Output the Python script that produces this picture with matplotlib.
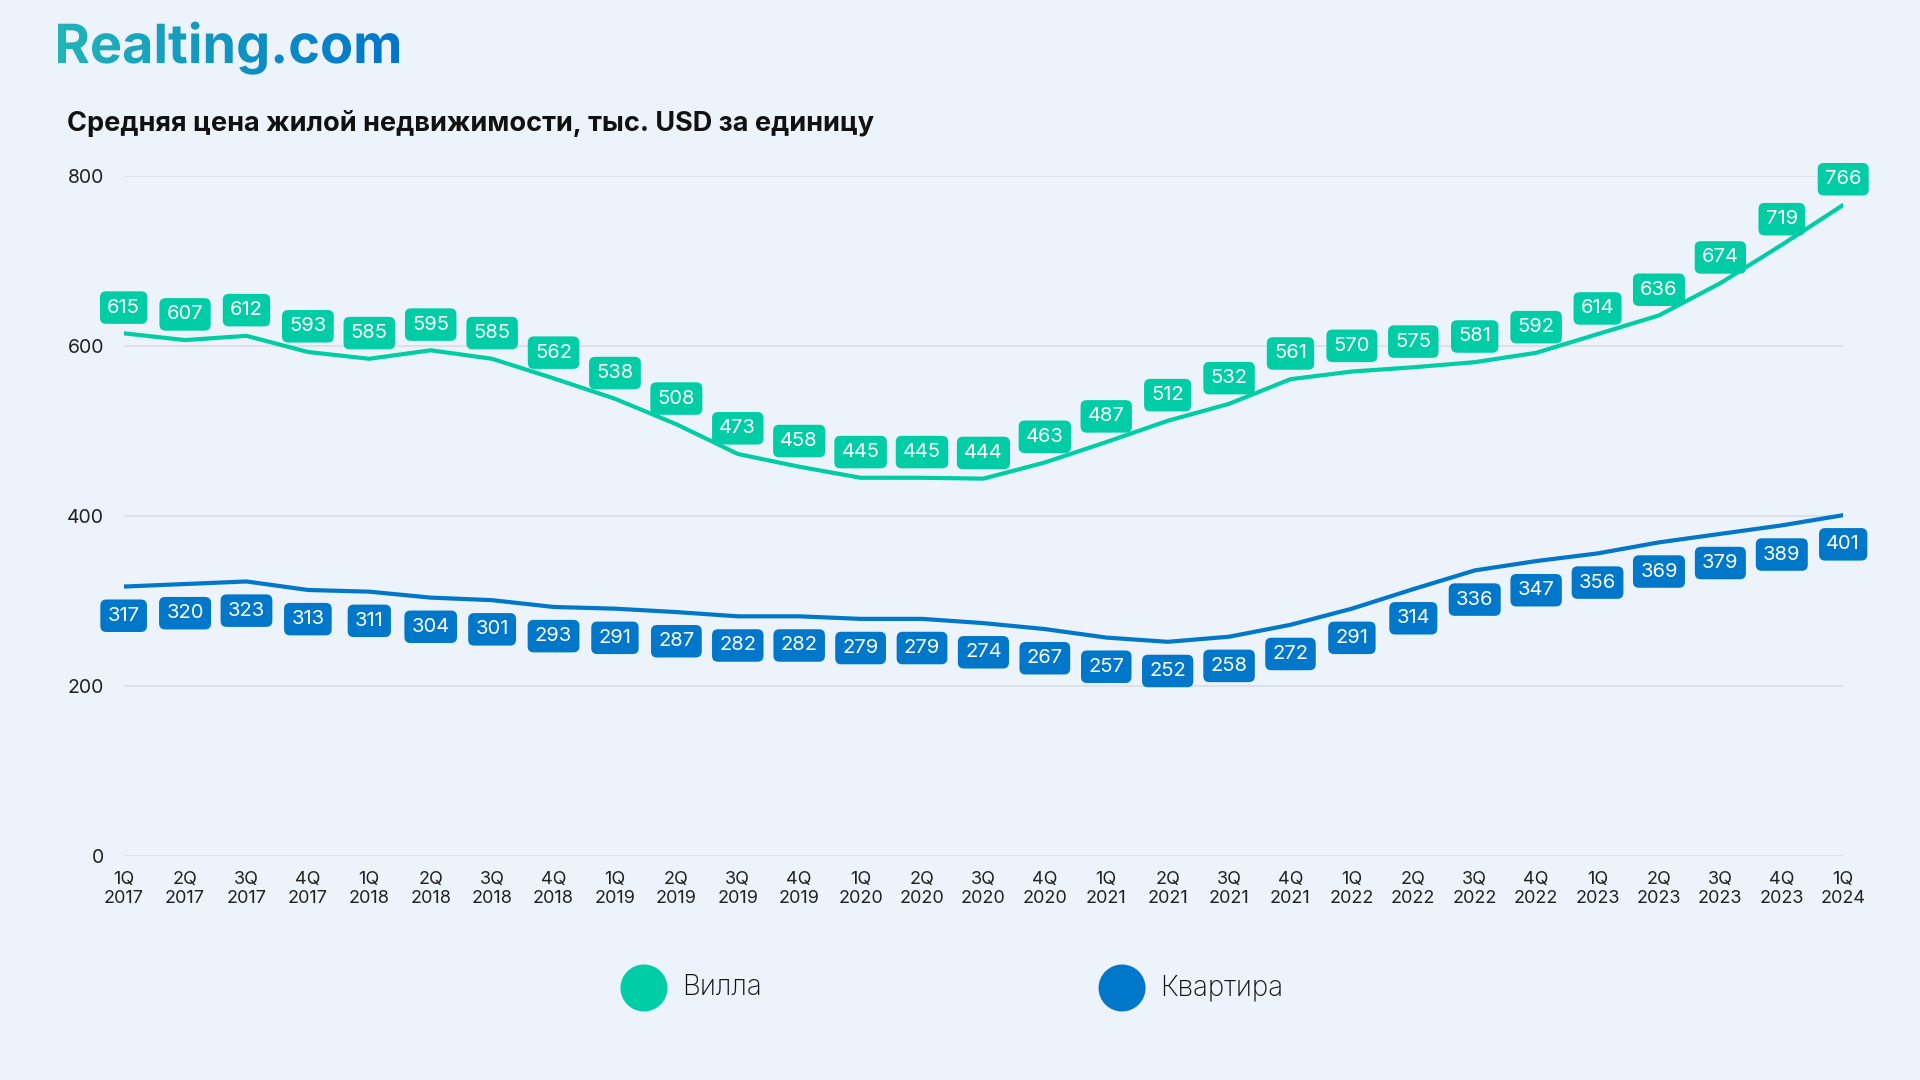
import numpy as np
import matplotlib.pyplot as plt
from matplotlib.patches import Ellipse, PathPatch
from matplotlib.textpath import TextPath
from matplotlib.font_manager import FontProperties

plt.rcParams['font.family'] = ['Inter', 'DejaVu Sans']

quarters = ['1Q', '2Q', '3Q', '4Q']
periods = [f'{q}\n{y}' for y in range(2017, 2025) for q in quarters][:29]

villa = [615, 607, 612, 593, 585, 595, 585, 562, 538, 508, 473, 458, 445, 445, 444,
         463, 487, 512, 532, 561, 570, 575, 581, 592, 614, 636, 674, 719, 766]
apartment = [317, 320, 323, 313, 311, 304, 301, 293, 291, 287, 282, 282, 279, 279, 274,
             267, 257, 252, 258, 272, 291, 314, 336, 347, 356, 369, 379, 389, 401]

BG = '#edf3fb'
VILLA_C = '#00cca6'
FLAT_C = '#0077c8'

fig = plt.figure(figsize=(19.2, 10.8), dpi=100, facecolor=BG)
ax = fig.add_axes([0.0644, 0.2074, 0.8956, 0.6296])
ax.set_facecolor(BG)

x = np.arange(len(periods))

for vals, color, off in [(villa, VILLA_C, 18.5), (apartment, FLAT_C, -21)]:
    ax.plot(x, vals, color=color, lw=3, solid_capstyle='round', solid_joinstyle='round', zorder=3)
    for xi, v in zip(x, vals):
        ax.annotate(str(v), (xi, v), xytext=(0, off), textcoords='offset points',
                    ha='center', va='center', fontsize=14.5, color='white',
                    annotation_clip=False, zorder=4,
                    bbox=dict(boxstyle='round,pad=0.36,rounding_size=0.3', fc=color, ec='none'))

ax.set_xlim(0, len(periods) - 1)
ax.set_ylim(0, 800)
ax.set_yticks([0, 200, 400, 600, 800])
ax.set_xticks(x)
ax.set_xticklabels(periods, fontsize=13, color='#222222', linespacing=1.1)
ax.tick_params(axis='y', labelsize=14, colors='#222222', length=0, pad=14)
ax.tick_params(axis='x', length=0, pad=11)
ax.grid(axis='y', color='#d9dde3', lw=1.2)
ax.set_axisbelow(True)
for s in ax.spines.values():
    s.set_visible(False)

# logo with teal -> blue gradient
lax = fig.add_axes([0, 0, 1, 1], zorder=-1)
lax.set_xlim(0, 1920)
lax.set_ylim(0, 1080)
lax.axis('off')
tp = TextPath((0, 0), 'Realting.com', size=54, prop=FontProperties(family='Inter', weight='bold'))
bb = tp.get_extents()
tp = TextPath((58 - bb.x0, 1080 - 43 - 20), 'Realting.com', size=54,
              prop=FontProperties(family='Inter', weight='bold'))
bb = tp.get_extents()
patch = PathPatch(tp, fc='none', ec='none')
lax.add_patch(patch)
grad = np.linspace(0, 1, 256).reshape(1, -1)
im = lax.imshow(grad, extent=[bb.x0, bb.x1, bb.y0, bb.y1], aspect='auto',
                cmap=plt.matplotlib.colors.LinearSegmentedColormap.from_list('logo', ['#22b4b8', '#0075cc']))
im.set_clip_path(patch)
lax.set_xlim(0, 1920)
lax.set_ylim(0, 1080)

fig.text(0.035, 0.886, 'Средняя цена жилой недвижимости, тыс. USD за единицу',
         fontsize=19.5, fontweight='bold', color='#111111', va='center', ha='left')

# legend
for cx, label, color in [(0.3354, 'Вилла', VILLA_C), (0.5844, 'Квартира', FLAT_C)]:
    fig.patches.append(Ellipse((cx, 0.0852), 0.0245, 0.0435, transform=fig.transFigure,
                               fc=color, ec='none'))
    fig.text(cx + 0.020, 0.0852, label, fontsize=20, fontweight='light', color='#111111',
             va='center', ha='left')

fig.savefig('out.png', dpi=100, facecolor=BG)
